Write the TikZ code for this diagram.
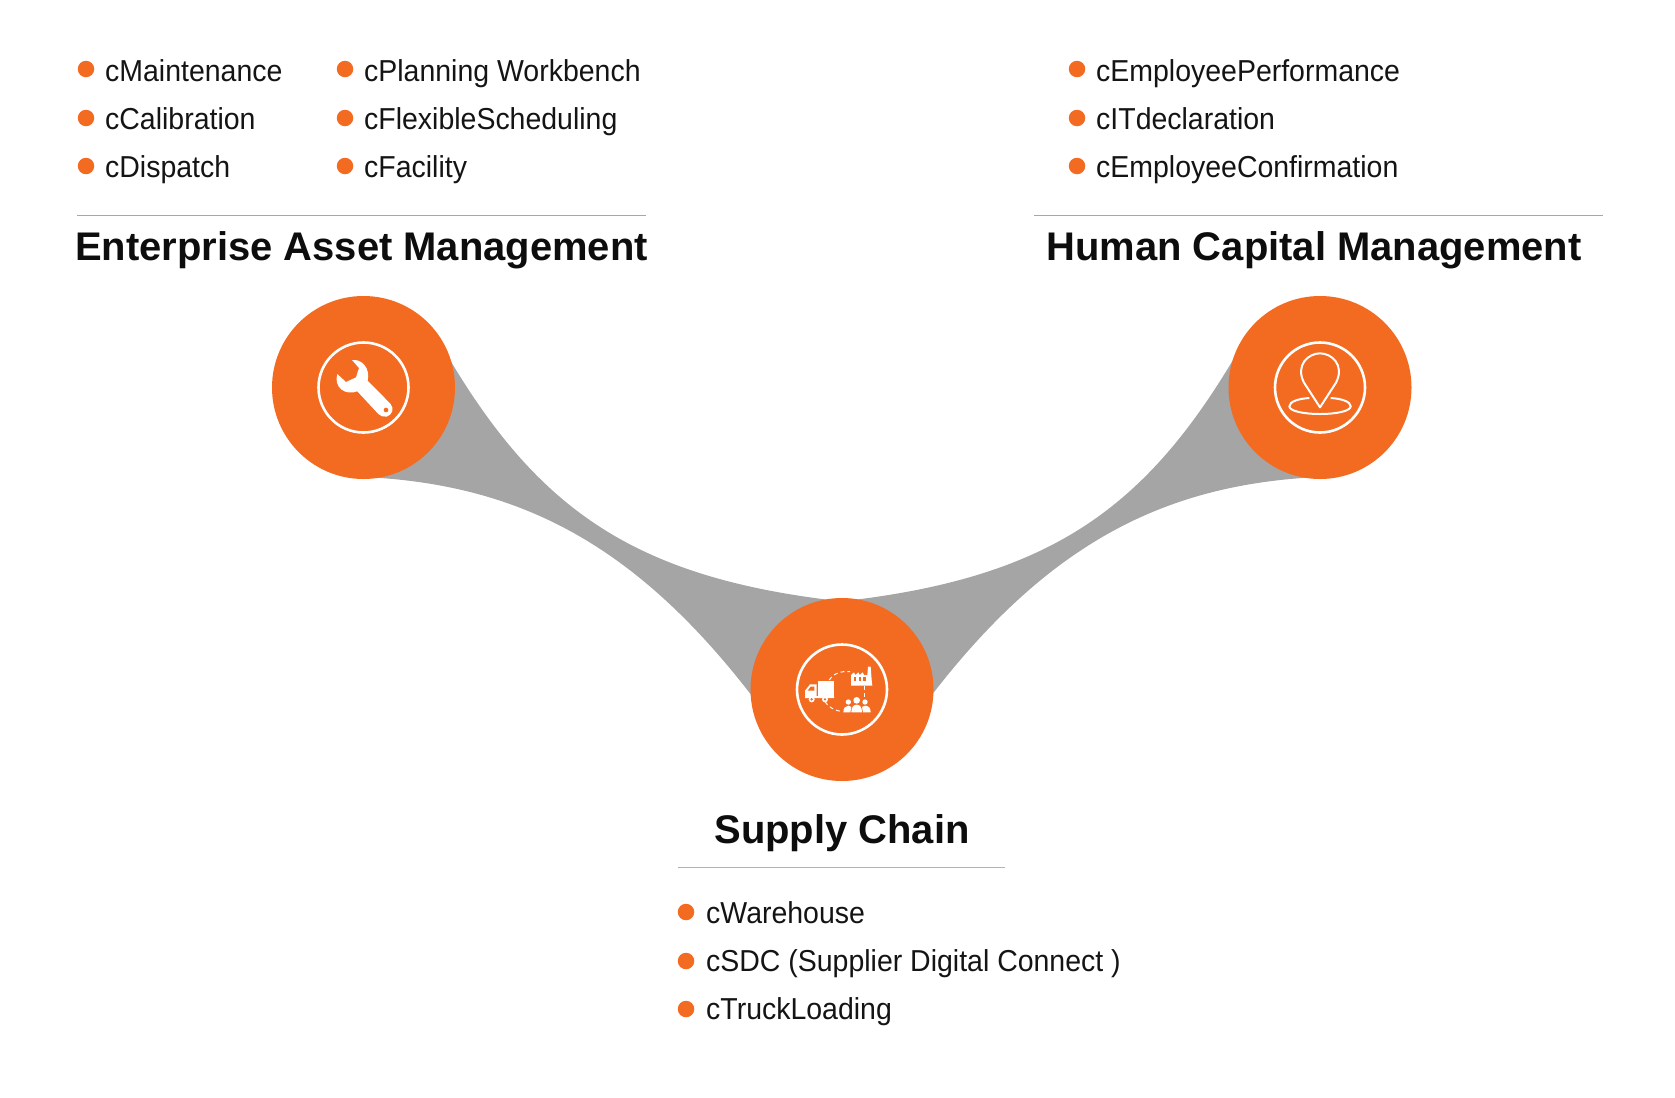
\documentclass[tikz,border=0pt]{standalone}
\usepackage{fontspec}
\setmainfont{Liberation Sans}
\newfontfamily\itemfont[FakeStretch=0.94]{Liberation Sans}

\definecolor{ordot}{RGB}{243,106,33}
\definecolor{bandgray}{RGB}{165,165,165}
\definecolor{ruletan}{RGB}{201,160,110}
\definecolor{rulesalmon}{RGB}{236,160,130}

\tikzset{
  hub/.style={circle,fill=ordot,minimum size=183bp,inner sep=0pt},
  ring/.style={circle,draw=white,line width=2.6bp,minimum size=90bp,inner sep=0pt},
  bullet/.style={circle,fill=ordot,minimum size=16.5bp,inner sep=0pt},
  item/.style={anchor=base west,inner sep=0pt,font=\itemfont\fontsize{30.4}{32}\selectfont,text=black!92},
  heading/.style={anchor=base,inner sep=0pt,font=\fontsize{40.1}{42}\selectfont\bfseries,text=black!95},
  iconline/.style={draw=white,line width=2bp},
  icondash/.style={draw=white,line width=1bp,dash pattern=on 4bp off 3bp}
}

\begin{document}
\begin{tikzpicture}[x=1bp,y=-1bp]
    \useasboundingbox (0,0) rectangle (1675,1097);

    \coordinate (assetTop) at (450,360);
    \coordinate (assetLow) at (365,477);
    \coordinate (chainTopL) at (830,600);
    \coordinate (chainLowL) at (752,696);
    \coordinate (humanTop) at (1233,360);
    \coordinate (humanLow) at (1318,477);
    \coordinate (chainTopR) at (853,600);
    \coordinate (chainLowR) at (931,696);

    % bands
    \fill[bandgray] (assetTop) .. controls (539,509) and (634,576) .. (chainTopL)
        -- (chainLowL) .. controls (632,540) and (515,484.5) .. (assetLow) -- cycle;
    \fill[bandgray] (humanTop) .. controls (1144,509) and (1049,576) .. (chainTopR)
        -- (chainLowR) .. controls (1051,540) and (1168,484.5) .. (humanLow) -- cycle;

    \node[hub] (asset) at (363.5,387.5) {};
    \node[hub] (human) at (1320,387.5) {};
    \node[hub] (chain) at (842,689.5) {};
    \node[ring] (assetRing) at (363.5,387.5) {};
    \node[ring] (humanRing) at (1320,387.5) {};
    \node[ring] (chainRing) at (842,689.5) {};

    % wrench
    \begin{scope}[shift={(260,290)},scale=1/3]
        \fill[white] (276,210) .. controls (305,206) and (332,235) .. (323,272)
            -- (392,342) .. controls (404,358) and (396,374) .. (380,380)
            .. controls (370,382) and (360,377) .. (355,372)
            -- (292,304) .. controls (256,318) and (220,292) .. (232,252)
            -- (258,276) -- (288,262) -- (297,234) -- cycle;
        \fill[ordot] (378,360) circle (7);
    \end{scope}

    % pin
    \begin{scope}[shift={(1220,290)},scale=1/3]
        \draw[iconline,line join=round] (300,352) -- (252,278)
            .. controls (225,225) and (265,190) .. (300,190)
            .. controls (335,190) and (375,225) .. (348,278) -- cycle;
        \draw[iconline] (268,324) .. controls (235,326) and (208,335) .. (208,349)
            .. controls (208,363) and (250,372) .. (300,372)
            .. controls (350,372) and (392,363) .. (392,349)
            .. controls (392,335) and (365,326) .. (332,324);
    \end{scope}

    % truck, factory, people
    \begin{scope}[shift={(770,620)},scale=1/3]
        \fill[white] (145,183) rectangle (192,228);
        \fill[white] (105,234) -- (105,212) -- (120,193) -- (140,193) -- (140,228)
            -- (192,228) -- (192,234) -- cycle;
        \fill[ordot] (113,212) -- (122,200) -- (133,200) -- (133,212) -- cycle;
        \fill[white] (125,238) circle (9);
        \fill[white] (165,238) circle (9);
        \fill[ordot] (125,238) circle (4);
        \fill[ordot] (165,238) circle (4);
        \draw[icondash] (178,180) .. controls (190,160) and (215,152) .. (240,155);
        \draw[icondash] (165,245) .. controls (175,262) and (195,272) .. (218,275);
        \draw[icondash] (284,198) -- (284,238);
        \fill[white] (243,197) -- (243,165) -- (252,157) -- (256,165) -- (265,157)
            -- (269,165) -- (278,157) -- (282,165) -- (292,165) -- (294,140)
            -- (302,140) -- (305,180) -- (307,197) -- cycle;
        \fill[ordot] (252,172) rectangle (259,182);
        \fill[ordot] (266,172) rectangle (273,182);
        \fill[ordot] (280,172) rectangle (287,182);
        \fill[white] (260,241) circle (10);
        \fill[white] (235,246) circle (8);
        \fill[white] (285,246) circle (8);
        \fill[white] (244,277) .. controls (244,262) and (250,254) .. (260,254)
            .. controls (270,254) and (276,262) .. (276,277) -- cycle;
        \fill[white] (220,277) .. controls (220,264) and (226,257) .. (235,257)
            .. controls (238,257) and (242,258) .. (244,261) -- (241,277) -- cycle;
        \fill[white] (302,277) .. controls (302,264) and (296,257) .. (285,257)
            .. controls (282,257) and (278,258) .. (276,261) -- (279,277) -- cycle;
    \end{scope}

    % Enterprise Asset Management
    \node[bullet] (dotMaint) at (86,69) {};
    \node[item] (itemMaint) at (105,81) {cMaintenance};
    \node[bullet] (dotCalib) at (86,118) {};
    \node[item] (itemCalib) at (105,129) {cCalibration};
    \node[bullet] (dotDisp) at (86,166) {};
    \node[item] (itemDisp) at (105,177) {cDispatch};
    \node[bullet] (dotPlan) at (345,69) {};
    \node[item] (itemPlan) at (364,81) {cPlanning Workbench};
    \node[bullet] (dotFlex) at (345,118) {};
    \node[item] (itemFlex) at (364,129) {cFlexibleScheduling};
    \node[bullet] (dotFac) at (345,166) {};
    \node[item] (itemFac) at (364,177) {cFacility};
    \coordinate (ruleAssetL) at (77,215);
    \coordinate (ruleAssetR) at (646,215);
    \draw[ruletan,line width=1bp] (ruleAssetL) -- (ruleAssetR);
    \node[heading] (titleAsset) at (361.5,260) {Enterprise Asset Management};

    % Human Capital Management
    \node[bullet] (dotPerf) at (1077,69) {};
    \node[item] (itemPerf) at (1096,81) {cEmployeePerformance};
    \node[bullet] (dotDecl) at (1077,118) {};
    \node[item] (itemDecl) at (1096,129) {cITdeclaration};
    \node[bullet] (dotConf) at (1077,166) {};
    \node[item] (itemConf) at (1096,177) {cEmployeeConfirmation};
    \coordinate (ruleHumanL) at (1034,215);
    \coordinate (ruleHumanR) at (1603,215);
    \draw[ruletan,line width=1bp] (ruleHumanL) -- (ruleHumanR);
    \node[heading] (titleHuman) at (1314,260) {Human Capital Management};

    % Supply Chain
    \node[heading] (titleChain) at (842,843) {Supply Chain};
    \coordinate (ruleChainL) at (678,867);
    \coordinate (ruleChainR) at (1005,867);
    \draw[rulesalmon,line width=1bp] (ruleChainL) -- (ruleChainR);
    \node[bullet] (dotWare) at (686,912) {};
    \node[item] (itemWare) at (706,923) {cWarehouse};
    \node[bullet] (dotSdc) at (686,961) {};
    \node[item] (itemSdc) at (706,971) {cSDC (Supplier Digital Connect )};
    \node[bullet] (dotTruck) at (686,1009) {};
    \node[item] (itemTruck) at (706,1019) {cTruckLoading};
\end{tikzpicture}
\end{document}
